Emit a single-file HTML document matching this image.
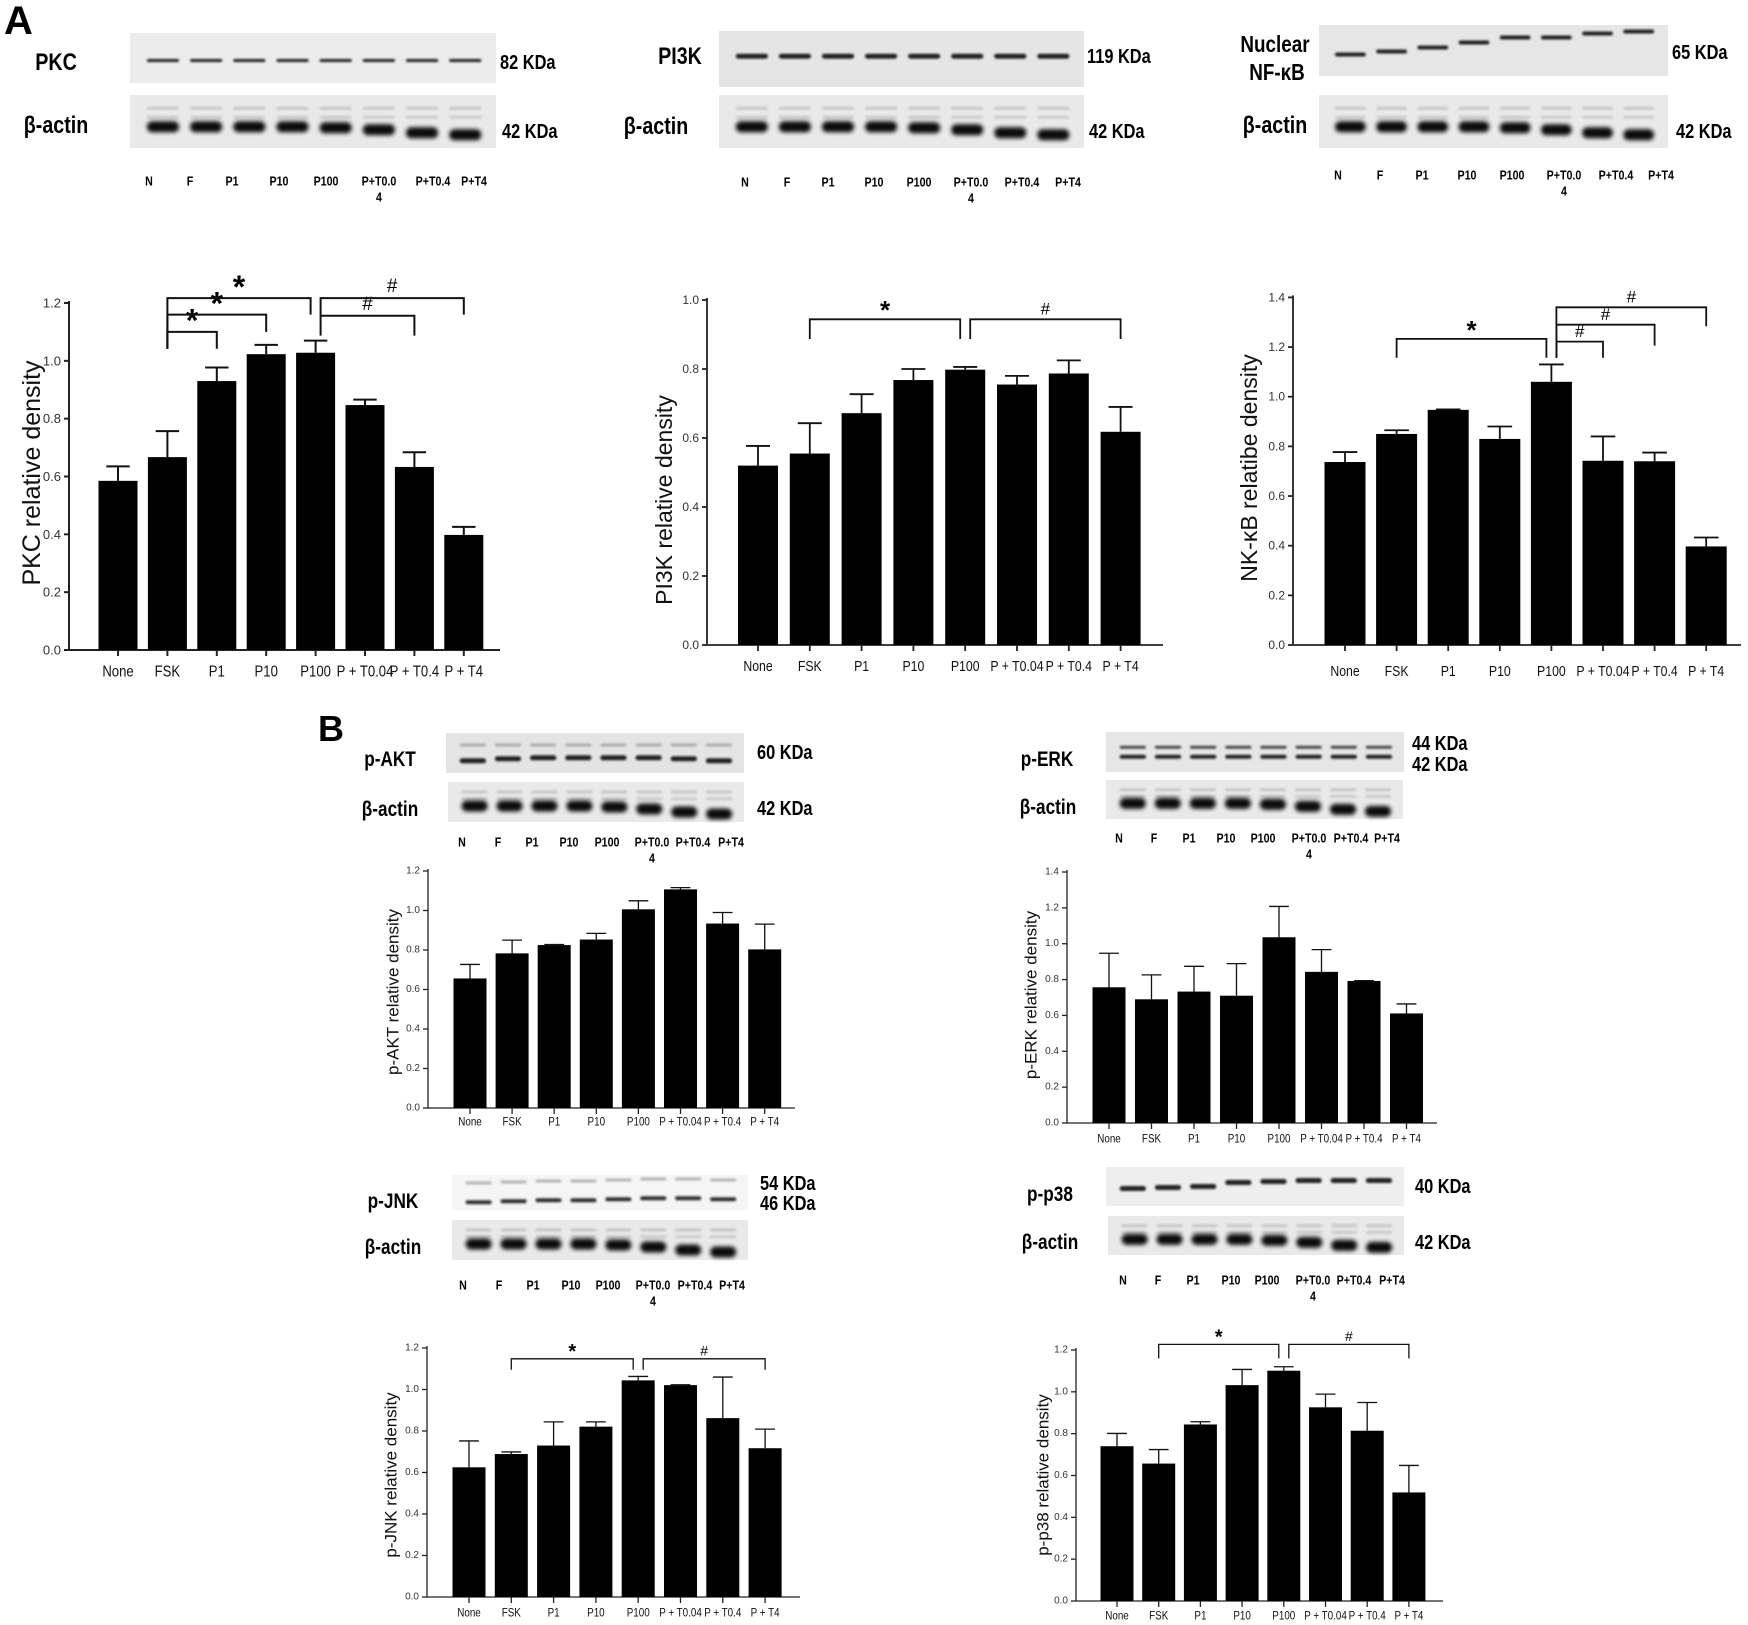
<!DOCTYPE html>
<html><head><meta charset="utf-8"><style>
html,body{margin:0;padding:0;background:#fff;}
svg{display:block;}
text{font-family:"Liberation Sans",Arial,sans-serif;}
</style></head><body>
<svg id="fig" width="1748" height="1625" viewBox="0 0 1748 1625" xmlns="http://www.w3.org/2000/svg">
<defs><filter id="bl" x="-20%" y="-100%" width="140%" height="300%"><feGaussianBlur stdDeviation="1.1"/></filter>
<filter id="bl2" x="-20%" y="-100%" width="140%" height="300%"><feGaussianBlur stdDeviation="2"/></filter></defs>
<g id="blots"></g>
<g id="charts"></g>
<g id="labels">
<text x="4" y="34" font-size="40" font-weight="bold">A</text>
<text x="318" y="741" font-size="36" font-weight="bold">B</text>
</g>
</svg>
<script>
// ===== data =====
const categories = ["None","FSK","P1","P10","P100","P + T0.04","P + T0.4","P + T4"];
const laneLabels = ["N","F","P1","P10","P100","P+T0.0","P+T0.4","P+T4"];

const pkcMeans = [0.585,0.667,0.930,1.023,1.028,0.847,0.633,0.398];
const pkcErrs  = [0.050,0.090,0.047,0.032,0.042,0.019,0.051,0.028];
const pkcTicks = [0,0.2,0.4,0.6,0.8,1.0,1.2];
const pkcBrackets = [[1,2,1.10,1.042,1.042,"*"],[1,3,1.16,1.042,1.10,"*"],[1,4,1.217,1.042,1.16,"*"],[4,6,1.156,1.087,1.087,"#"],[4,7,1.217,1.156,1.16,"#"]];

const pi3kMeans = [0.520,0.555,0.672,0.768,0.798,0.755,0.787,0.618];
const pi3kErrs  = [0.057,0.088,0.055,0.032,0.008,0.025,0.038,0.072];
const pi3kTicks = [0,0.2,0.4,0.6,0.8,1.0];
const pi3kBrackets = [[1,4,0.944,0.887,0.887,"*"],[4,7,0.944,0.887,0.887,"#"]];

const nfMeans = [0.737,0.850,0.947,0.830,1.060,0.742,0.740,0.397];
const nfErrs  = [0.040,0.015,0.002,0.050,0.070,0.098,0.035,0.036];
const nfTicks = [0,0.2,0.4,0.6,0.8,1.0,1.2,1.4];
const nfBrackets = [[1,4,1.233,1.157,1.157,"*"],[4,5,1.222,1.157,1.157,"#"],[4,6,1.29,1.157,1.206,"#"],[4,7,1.36,1.157,1.284,"#"]];

const aktMeans = [0.656,0.783,0.825,0.853,1.006,1.107,0.934,0.803];
const aktErrs  = [0.071,0.067,0.003,0.031,0.043,0.009,0.056,0.128];
const aktTicks = [0,0.2,0.4,0.6,0.8,1.0,1.2];

const erkMeans = [0.757,0.690,0.733,0.710,1.036,0.843,0.792,0.611];
const erkErrs  = [0.190,0.136,0.141,0.179,0.172,0.124,0.002,0.053];
const erkTicks = [0,0.2,0.4,0.6,0.8,1.0,1.2,1.4];

const jnkMeans = [0.625,0.689,0.730,0.821,1.044,1.021,0.862,0.717];
const jnkErrs  = [0.127,0.010,0.114,0.023,0.019,0.002,0.198,0.092];
const jnkTicks = [0,0.2,0.4,0.6,0.8,1.0,1.2];
const jnkBrackets = [[1,4,1.148,1.095,1.095,"*"],[4,7,1.148,1.095,1.095,"#"]];

const p38Means = [0.740,0.657,0.844,1.032,1.101,0.926,0.814,0.519];
const p38Errs  = [0.061,0.067,0.013,0.075,0.019,0.063,0.135,0.129];
const p38Ticks = [0,0.2,0.4,0.6,0.8,1.0,1.2];
const p38Brackets = [[1,4,1.227,1.16,1.16,"*"],[4,7,1.227,1.16,1.16,"#"]];

// ===== helpers =====
const NS="http://www.w3.org/2000/svg";
function mk(tag,attrs,parent){const e=document.createElementNS(NS,tag);for(const k in attrs)e.setAttribute(k,attrs[k]);parent.appendChild(e);return e;}
function txt(parent,x,y,s,size,opts){opts=opts||{};const t=mk("text",{x:x,y:y,"font-size":size,"text-anchor":opts.anchor||"middle","dominant-baseline":"central",fill:opts.fill||"#000"},parent);
 if(opts.bold)t.setAttribute("font-weight","bold");
 if(opts.rot)t.setAttribute("transform","rotate(-90 "+x+" "+y+")");
 else if(opts.nar){t.setAttribute("x",0);t.setAttribute("y",0);t.setAttribute("transform","translate("+x+" "+y+") scale(0.82 1)");}
 t.textContent=s;return t;}

const chartsG=document.getElementById("charts");
function drawChart(name,L,means,errs,ticks,brackets,title){
 const g=mk("g",{},chartsG);
 
 
 const yS=v=>L.y0-(v/L.yMax)*(L.y0-L.yTop);
 const xS=i=>L.cx0+i*L.step;
 const sw=L.sw||1.6;
 const ya=mk("line",{x1:L.ax,y1:L.y0,x2:L.ax,y2:yS(ticks[ticks.length-1])-2,stroke:"#222","stroke-width":sw},g);
 
 
 const xa=mk("line",{x1:L.ax,y1:L.y0,x2:L.xEnd,y2:L.y0,stroke:"#222","stroke-width":sw},g);
 
 
 ticks.forEach(v=>{
  mk("line",{x1:L.ax-5,y1:yS(v),x2:L.ax,y2:yS(v),stroke:"#222","stroke-width":sw},g);
  const t=txt(g,L.ax-8,yS(v),v.toFixed(1),L.tf,{anchor:"end",fill:"#333"});
  
  
 });
 means.forEach((m,i)=>{
  const cx=xS(i);
  const b=mk("rect",{x:cx-L.bw/2,y:yS(m),width:L.bw,height:L.y0-yS(m),fill:"#000"},g);
  
  
  const top=yS(m+errs[i]);
  const e=mk("path",{d:"M"+cx+" "+yS(m)+"V"+top+"M"+(cx-L.bw*0.3)+" "+top+"H"+(cx+L.bw*0.3),stroke:"#111","stroke-width":sw,fill:"none"},g);
  
  
  mk("line",{x1:cx,y1:L.y0,x2:cx,y2:L.y0+6,stroke:"#222","stroke-width":sw},g);
  const c=txt(g,cx,L.catY,categories[i],L.cf,{nar:true,fill:"#111"});
  
  
 });
 (brackets||[]).forEach(br=>{
  const x1=xS(br[0])+(br[0]===4?5:0), x2=xS(br[1])-(br[1]===4?5:0);
  const yy=yS(br[2]);
  const p=mk("path",{d:"M"+x1+" "+yS(br[3])+"V"+yy+"H"+x2+"V"+yS(br[4]),stroke:"#111","stroke-width":sw,fill:"none"},g);
  
  
  const star=br[5]==="*";
  const s=txt(g,(x1+x2)/2,yy-(star?L.sf*0.35:L.hf*0.6),br[5],star?L.sf:L.hf,{bold:star});
  
  
 });
 const tt=txt(g,L.tx,L.ty,title,L.ttf,{rot:true,fill:"#111"});
 
 
}

drawChart("pkc",{ax:69,y0:650,yTop:303,yMax:1.2,cx0:118,step:49.4,bw:39,xEnd:500,tx:32,ty:473,ttf:25,tf:13,cf:16,catY:672,sf:32,hf:19,sw:2},pkcMeans,pkcErrs,pkcTicks,pkcBrackets,"PKC relative density");
drawChart("pi3k",{ax:707,y0:645,yTop:300,yMax:1.0,cx0:758,step:51.8,bw:40,xEnd:1163,tx:664,ty:500,ttf:23,tf:12,cf:15,catY:666,sf:26,hf:17,sw:1.8},pi3kMeans,pi3kErrs,pi3kTicks,pi3kBrackets,"PI3K relative density");
drawChart("nfkb",{ax:1293,y0:645,yTop:297.4,yMax:1.4,cx0:1345,step:51.6,bw:41,xEnd:1741,tx:1249,ty:468,ttf:23,tf:12,cf:15,catY:671,sf:26,hf:17,sw:1.8},nfMeans,nfErrs,nfTicks,nfBrackets,"NK-\u03baB relatibe density");
drawChart("pakt",{ax:428,y0:1108,yTop:871,yMax:1.2,cx0:470,step:42.1,bw:33,xEnd:795,tx:393,ty:992,ttf:17,tf:10,cf:12,catY:1122,sf:20,hf:14,sw:1.3},aktMeans,aktErrs,aktTicks,null,"p-AKT relative density");
drawChart("perk",{ax:1067,y0:1123,yTop:872,yMax:1.4,cx0:1109,step:42.5,bw:33,xEnd:1437,tx:1031,ty:995,ttf:17,tf:10,cf:12,catY:1139,sf:20,hf:14,sw:1.3},erkMeans,erkErrs,erkTicks,null,"p-ERK relative density");
drawChart("pjnk",{ax:427,y0:1597,yTop:1348,yMax:1.2,cx0:469,step:42.3,bw:33,xEnd:800,tx:391,ty:1475,ttf:17,tf:10,cf:12,catY:1613,sf:20,hf:14,sw:1.3},jnkMeans,jnkErrs,jnkTicks,jnkBrackets,"p-JNK relative density");
drawChart("pp38",{ax:1076,y0:1601,yTop:1350,yMax:1.2,cx0:1117,step:41.7,bw:33,xEnd:1443,tx:1043,ty:1475,ttf:17,tf:10,cf:12,catY:1616,sf:20,hf:14,sw:1.3},p38Means,p38Errs,p38Ticks,p38Brackets,"p-p38 relative density");

// ===== blots =====
const blotsG=document.getElementById("blots");
function blot(name,x,y,w,h,bg,rows){
 const g=mk("g",{},blotsG);
 
 
 mk("rect",{x:x,y:y,width:w,height:h,fill:bg},g);
 const bw=w*0.088;
 rows.forEach(r=>{
  for(let i=0;i<8;i++){
   const cx=x+w*(0.09+0.118*i);
   const cy=y+h*r.f+(r.dy?r.dy[i]:0);
   mk("rect",{x:cx-bw/2,y:cy-r.t/2,width:bw,height:r.t,rx:r.t/2,fill:r.c,opacity:r.o,filter:r.t>6?"url(#bl2)":"url(#bl)"},g);
  }
 });
}
function actin(name,x,y,w,h){
 blot(name,x,y,w,h,"#e9e9e9",[
  {f:0.25,t:3,c:"#888",o:0.35},{f:0.42,t:3,c:"#888",o:0.3},
  {f:0.6,t:11,c:"#000",o:0.95,dy:[0,0,0,0,1,3,6,8]}]);
}
function lanes(xs,y){xs.forEach((lx,i)=>{
 const t=txt(blotsG,lx,y,laneLabels[i],13,{bold:true,nar:true});
 
 
 if(i===5){const t2=txt(blotsG,lx,y+16,"4",13,{bold:true,nar:true});
  
  }
});}
function lab(x,y,s,size,anchor){const t=txt(blotsG,x,y,s,size,{bold:true,nar:true,anchor:anchor||"middle"});
 
 }

blot("pkc",130,33,366,50,"#ebebeb",[{f:0.55,t:3,c:"#111",o:0.9}]);
actin("pkc-actin",130,95,366,53);
lab(56,62,"PKC",24);lab(56,125,"\u03b2-actin",24);lab(500,62,"82 KDa",20,"start");lab(502,131,"42 KDa",20,"start");
lanes([149,190,232,279,326,379,433,474],181);

blot("pi3k",719,31,365,56,"#e5e5e5",[{f:0.45,t:5,c:"#111",o:0.9}]);
actin("pi3k-actin",719,95,365,53);
lab(680,56,"PI3K",24);lab(656,126,"\u03b2-actin",24);lab(1087,56,"119 KDa",20,"start");lab(1089,131,"42 KDa",20,"start");
lanes([745,787,828,874,919,971,1022,1068],182);

blot("nfkb",1319,25,349,51,"#e6e6e6",[{f:0.5,t:4,c:"#111",o:0.9,dy:[4,1,-3,-8,-13,-13,-17,-19]}]);
actin("nfkb-actin",1319,95,349,53);
lab(1275,45,"Nuclear",23);lab(1277,73,"NF-\u03baB",23);lab(1275,125,"\u03b2-actin",24);lab(1672,52,"65 KDa",20,"start");lab(1676,131,"42 KDa",20,"start");
lanes([1338,1380,1422,1467,1512,1564,1616,1661],175);

blot("pakt",446,733,298,40,"#e4e4e4",[{f:0.3,t:3,c:"#777",o:0.5},{f:0.62,t:5,c:"#111",o:0.9,dy:[3,1,0,0,0,0,1,3]}]);
actin("pakt-actin",448,782,296,40);
lab(390,760,"p-AKT",21);lab(390,810,"\u03b2-actin",21);lab(757,752,"60 KDa",20,"start");lab(757,808,"42 KDa",20,"start");
lanes([462,498,532,569,607,652,693,731],842);

blot("perk",1106,732,298,40,"#e6e6e6",[{f:0.38,t:3,c:"#222",o:0.8},{f:0.62,t:4,c:"#111",o:0.9}]);
actin("perk-actin",1106,780,297,39);
lab(1047,760,"p-ERK",21);lab(1048,808,"\u03b2-actin",21);lab(1412,743,"44 KDa",20,"start");lab(1412,764,"42 KDa",20,"start");
lanes([1119,1154,1189,1226,1263,1309,1351,1387],838);

blot("pjnk",452,1175,296,35,"#f5f5f5",[{f:0.2,t:3,c:"#888",o:0.6,dy:[1,0,-1,-1,-2,-3,-3,-2]},{f:0.75,t:4,c:"#111",o:0.85,dy:[1,0,-1,-1,-2,-3,-3,-2]}]);
actin("pjnk-actin",452,1220,296,40);
lab(393,1202,"p-JNK",21);lab(393,1248,"\u03b2-actin",21);lab(760,1183,"54 KDa",20,"start");lab(760,1203,"46 KDa",20,"start");
lanes([463,499,533,571,608,653,695,732],1285);

blot("pp38",1106,1167,298,39,"#eeeeee",[{f:0.45,t:5,c:"#111",o:0.9,dy:[4,3,2,-2,-3,-4,-4,-4]}]);
actin("pp38-actin",1108,1216,296,39);
lab(1050,1195,"p-p38",21);lab(1050,1243,"\u03b2-actin",21);lab(1415,1186,"40 KDa",20,"start");lab(1415,1242,"42 KDa",20,"start");
lanes([1123,1158,1193,1231,1267,1313,1354,1392],1280);
</script>
</body></html>
